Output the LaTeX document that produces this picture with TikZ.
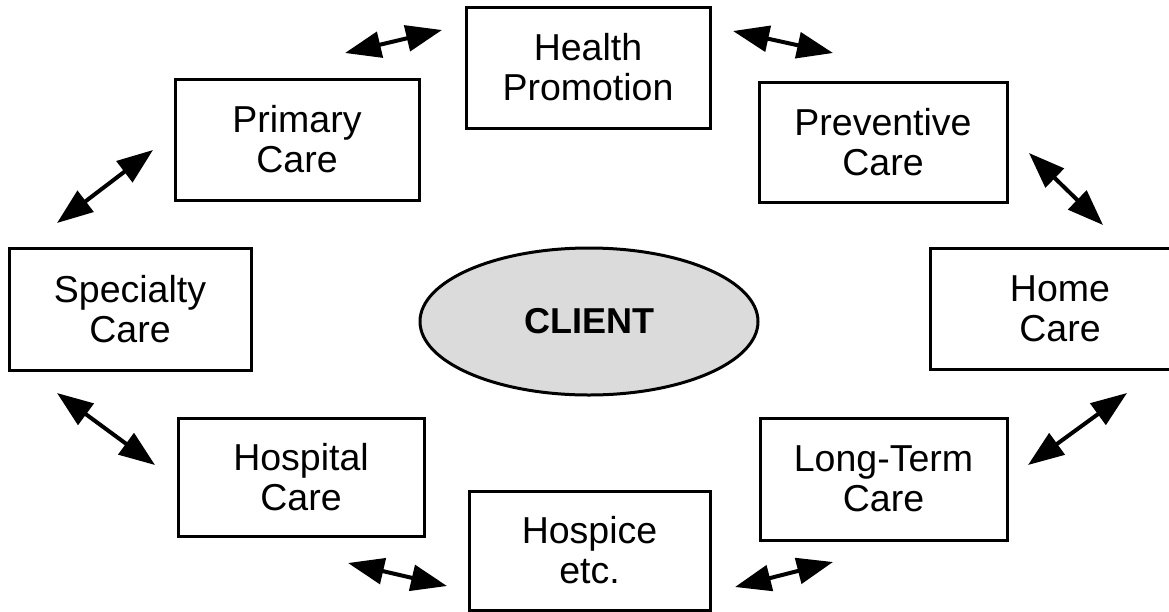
\documentclass[tikz,border=0pt]{standalone}
\usepackage{fontspec}
\setmainfont{Liberation Sans}
\usetikzlibrary{arrows.meta,shapes.geometric}

\tikzset{
  carebox/.style={draw, line width=3pt, rectangle, inner sep=0pt,
    align=center, font=\fontsize{37.5}{40}\selectfont},
  linkarrow/.style={line width=4pt,
    arrows={Triangle[length=36pt,width=26pt]-Triangle[length=36pt,width=26pt]}}
}

\begin{document}
\begin{tikzpicture}[x=1pt,y=-1pt]
  \useasboundingbox (0,0) rectangle (1169,611);
  \clip (0,0) rectangle (1169,611);

  % central client
  \node[ellipse, draw, line width=3pt, fill=black!14,
        minimum width=338pt, minimum height=147pt, inner sep=0pt,
        font=\fontsize{36}{40}\selectfont\bfseries] (client) at (589,321.5) {CLIENT};

  % ring of care settings
  \node[carebox, minimum width=244pt, minimum height=121pt] (health)  at (588,67.5)   {Health\\Promotion};
  \node[carebox, minimum width=244pt, minimum height=121pt] (primary) at (297,139.5)  {Primary\\Care};
  \node[carebox, minimum width=248pt, minimum height=120pt] (prevent) at (883,142)    {Preventive\\Care};
  \node[carebox, minimum width=242pt, minimum height=122pt] (special) at (130,309)    {Specialty\\Care};
  \node[carebox, minimum width=260pt, minimum height=121pt] (home)    at (1060,308.5) {Home\\Care};
  \node[carebox, minimum width=246pt, minimum height=118pt] (hospital) at (301,477)   {Hospital\\Care};
  \node[carebox, minimum width=247pt, minimum height=122pt] (longterm) at (883.5,479) {Long-Term\\Care};
  \node[carebox, minimum width=241pt, minimum height=119pt] (hospice) at (589.5,550.5) {Hospice\\etc.};

  % arrow end points between neighbouring settings
  \coordinate (a1s) at (345,53);   \coordinate (a1e) at (442,30);
  \coordinate (a2s) at (733,31);   \coordinate (a2e) at (833,53);
  \coordinate (a3s) at (1029,153); \coordinate (a3e) at (1103,225);
  \coordinate (a4s) at (57,223);   \coordinate (a4e) at (153,150);
  \coordinate (a5s) at (57,393);   \coordinate (a5e) at (155,465);
  \coordinate (a6s) at (1127,393); \coordinate (a6e) at (1028,465);
  \coordinate (a7s) at (348,563);  \coordinate (a7e) at (447,586);
  \coordinate (a8s) at (735,587);  \coordinate (a8e) at (833,562);

  \draw[linkarrow] (a1s) -- (a1e);
  \draw[linkarrow] (a2s) -- (a2e);
  \draw[linkarrow] (a3s) -- (a3e);
  \draw[linkarrow] (a4s) -- (a4e);
  \draw[linkarrow] (a5s) -- (a5e);
  \draw[linkarrow] (a6s) -- (a6e);
  \draw[linkarrow] (a7s) -- (a7e);
  \draw[linkarrow] (a8s) -- (a8e);
\end{tikzpicture}
\end{document}
